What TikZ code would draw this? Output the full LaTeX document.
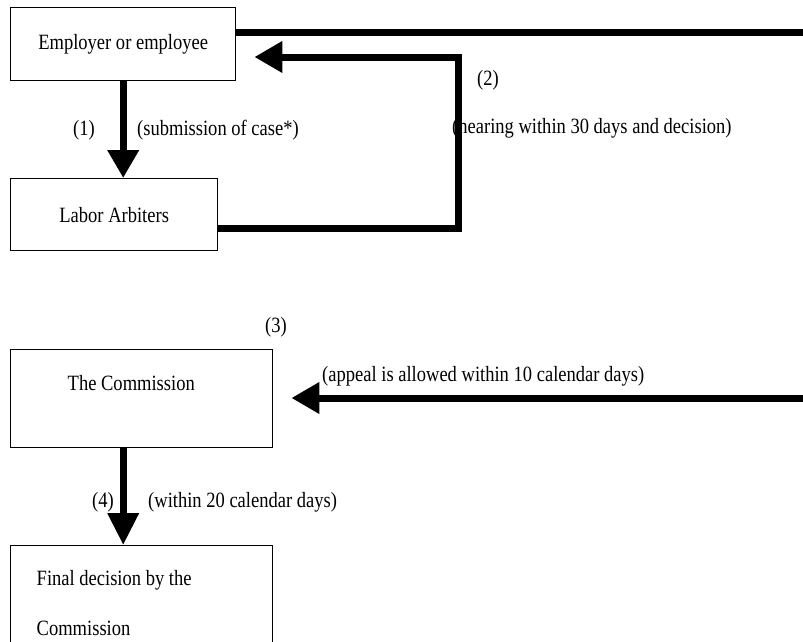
\documentclass[tikz,border=0pt]{standalone}
\usepackage{fontspec}
\setmainfont{Liberation Serif}[FakeStretch=0.85]
\usetikzlibrary{arrows.meta}

\begin{document}
\begin{tikzpicture}[
  x=1pt, y=-1pt,
  every node/.append style={font=\fontsize{21.8pt}{26pt}\selectfont},
  box/.style={draw, line width=1.4pt, anchor=north west},
  flow/.style={line width=7pt, line join=miter},
  head/.style={-{Triangle[length=28pt,width=30pt]}},
  longhead/.style={-{Triangle[length=32pt,width=30pt]}},
  lbl/.style={inner sep=0pt, anchor=west},
]
\useasboundingbox (0,0) rectangle (803,641);

% process boxes
\node[box, minimum width=225pt, minimum height=73pt] (emp) at (10,7) {Employer or employee};
\node[box, minimum width=207pt, minimum height=72pt] (lab) at (10,178) {Labor Arbiters};
\node[box, inner xsep=57pt, inner ysep=0pt, text height=40.5pt, text depth=57.5pt]
  (com) at (10,349) {\makebox[148pt][l]{The Commission}};
\node[box, inner xsep=26pt, inner ysep=0pt, text height=39.5pt, text depth=70pt]
  (fin) at (10,545) {\parbox[t]{210pt}{\baselineskip=50pt Final decision by the\\Commission}};

% off-page ends and bends of the long connectors
\coordinate (topout) at (803,32);
\coordinate (appin) at (803,398);
\coordinate (h1) at (458,228);
\coordinate (h2) at (458,57);

% connectors
\draw[flow] (emp.east |- topout) -- (topout);
\draw[flow, head] (emp.south) -- (emp.south |- lab.north);
\draw[flow, head] (lab.east |- h1) -- (h1) -- (h2) -- ([xshift=18pt]emp.east |- h2);
\draw[flow, head] (appin) -- ([xshift=18pt]com.east |- appin);
\draw[flow, longhead] (com.south -| emp.south) -- (fin.north -| emp.south);

% step labels
\node[lbl] (l1) at (73,130) {(1)};
\node[lbl] (lsub) at (137,130) {(submission of case*)};
\node[lbl] (l2) at (477,80) {(2)};
\node[lbl] (lhear) at (452,128) {(hearing within 30 days and decision)};
\node[lbl] (l3) at (265,327) {(3)};
\node[lbl] (lapp) at (322,376) {(appeal is allowed within 10 calendar days)};
\node[lbl] (l4) at (92,502) {(4)};
\node[lbl] (lwithin) at (148,502) {(within 20 calendar days)};
\end{tikzpicture}
\end{document}
